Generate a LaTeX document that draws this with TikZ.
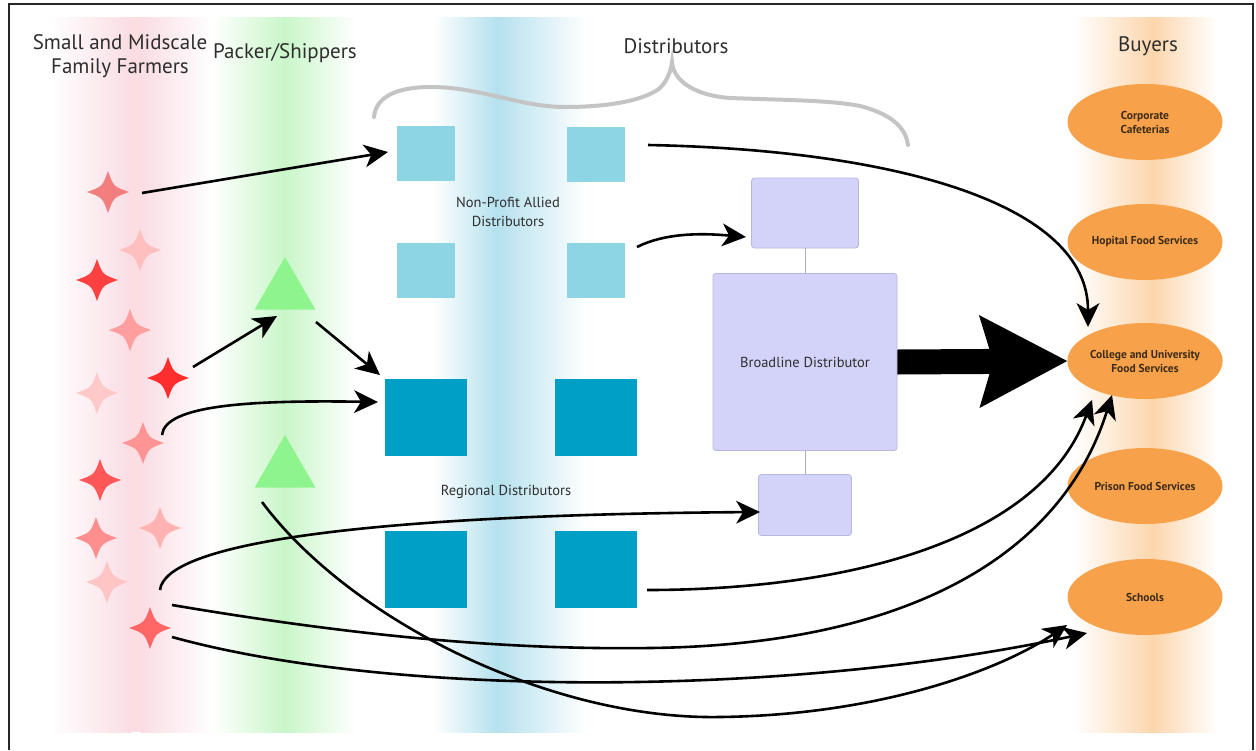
\documentclass[tikz,border=0pt]{standalone}
\usepackage{fontspec}
\setmainfont{PT Sans}
\usetikzlibrary{shapes.geometric,arrows.meta}
\definecolor{npblue}{HTML}{8DD4E5}
\definecolor{rgblue}{HTML}{00A0C6}
\definecolor{lav}{HTML}{D3D3FA}
\definecolor{lavline}{HTML}{B6B6E2}
\definecolor{trigreen}{HTML}{8EF58E}
\definecolor{buyorange}{HTML}{F7A24A}
\definecolor{bandpink}{HTML}{FADCE4}
\definecolor{bandgreen}{HTML}{C9F6C9}
\definecolor{bandblue}{HTML}{B5E1EE}
\definecolor{bandorange}{HTML}{FCD6AD}
\definecolor{headtext}{HTML}{2E2E2E}
\definecolor{buytext}{HTML}{3D2B17}
\definecolor{bracegray}{HTML}{C4C4C4}
\definecolor{starsalmon}{HTML}{F27E7E}
\newcommand\farmstar[3]{%
  \node[circle,inner sep=0pt,minimum size=42pt] (#1) at (#2) {};
  \fill[#3,shift={(#2)}] (0,-21) .. controls (5.5,-5.5) .. (21,0) .. controls (5.5,5.5) .. (0,21)
     .. controls (-5.5,5.5) .. (-21,0) .. controls (-5.5,-5.5) .. (0,-21) -- cycle;}
\begin{document}
\begin{tikzpicture}[x=1pt,y=-1pt,
  flow/.style={line width=2.6pt,-{Stealth[length=24pt 0,width=23pt 0,inset=7pt 0,line width=0pt 0 0]}},
  npbox/.style={fill=npblue,minimum width=58pt,minimum height=55pt,inner sep=0pt},
  rgbox/.style={fill=rgblue,minimum width=82pt,minimum height=77pt,inner sep=0pt},
  bdbox/.style={fill=lav,draw=lavline,line width=0.8pt,rounded corners=3pt,inner sep=0pt,
     font=\fontsize{14.5}{17}\selectfont,text=headtext},
  buyer/.style={ellipse,fill=buyorange,minimum width=155pt,minimum height=76pt,inner sep=0pt,
     font=\fontsize{11.5}{14}\selectfont\bfseries,text=buytext,align=center},
  tri/.style={regular polygon,regular polygon sides=3,fill=trigreen,minimum size=70pt,inner sep=0pt},
  head/.style={font=\fontsize{21}{24}\selectfont,text=headtext,align=center},
  lbl/.style={font=\fontsize{14.5}{19}\selectfont,text=headtext,align=center}]
\useasboundingbox (0,0) rectangle (1256,750);
\fill[white] (0,0) rectangle (1256,750);
% background bands
\shade[left color=white,right color=bandpink] (50,17) rectangle (132,732);
\fill[bandpink!90!red!60!white] (130,17) rectangle (142,732);
\shade[left color=bandpink,right color=white] (140,17) rectangle (212,732);
\shade[left color=white,right color=bandgreen] (212,17) rectangle (285,732);
\shade[left color=bandgreen,right color=white] (285,17) rectangle (356,732);
\shade[left color=white,right color=bandblue] (433,17) rectangle (497,732);
\shade[left color=bandblue,right color=white] (497,17) rectangle (587,732);
\shade[left color=white,right color=bandorange] (1073,17) rectangle (1153,732);
\shade[left color=bandorange,right color=white] (1153,17) rectangle (1217,732);
% frame
\draw[line width=1.3pt,black!85] (9,750) -- (9,4) -- (1253,4) -- (1253,750);
% brace
\draw[bracegray,line width=4pt,line cap=round]
  (374,117) .. controls (376,95) and (400,87) .. (431,87)
  .. controls (480,87) and (520,107) .. (565,107)
  .. controls (610,107) and (645,100) .. (660,88)
  .. controls (668,80) and (671,70) .. (672,62)
  .. controls (673,78) and (690,95) .. (730,98)
  .. controls (780,100) and (830,100) .. (860,106)
  .. controls (895,115) and (906,130) .. (908,145);
% headers
\node[head] (hfarm) at (120,56) {Small and Midscale\\Family Farmers};
\node[head] (hpack) at (285,53) {Packer/Shippers};
\node[head] (hdist) at (676,46) {Distributors};
\node[head] (hbuy) at (1148,46) {Buyers};
% stars
\farmstar{sA}{108,192}{starsalmon}
\farmstar{sB}{140,250}{red!25!white}
\farmstar{sC}{97,280}{red!75!white}
\farmstar{sD}{130,330}{red!38!white}
\farmstar{sE}{168,378}{red!82!white}
\farmstar{sF}{97,393}{red!21!white}
\farmstar{sG}{143,443}{red!42!white}
\farmstar{sH}{100,480}{red!66!white}
\farmstar{sI}{96,538}{red!44!white}
\farmstar{sJ}{160,528}{red!30!white}
\farmstar{sK}{107,582}{red!23!white}
\farmstar{sL}{150,628}{red!60!white}
% triangles
\node[tri] (t1) at (285,292) {};
\node[tri] (t2) at (285,470) {};
% distributor boxes
\node[npbox] (np1) at (426,153) {};
\node[npbox] (np2) at (596,154) {};
\node[npbox] (np3) at (426,270) {};
\node[npbox] (np4) at (596,270) {};
\node[lbl] (nplbl) at (508,212) {Non-Profit Allied\\Distributors};
\node[rgbox] (r1) at (426,417) {};
\node[rgbox] (r2) at (596,417) {};
\node[rgbox] (r3) at (426,569) {};
\node[rgbox] (r4) at (596,569) {};
\node[lbl] (rglbl) at (506,492) {Regional Distributors};
\node[bdbox,minimum width=107pt,minimum height=70pt] (bdtop) at (805,213) {};
\node[bdbox,minimum width=184pt,minimum height=177pt] (bdbig) at (805,362) {Broadline Distributor};
\node[bdbox,minimum width=93pt,minimum height=61pt] (bdbot) at (805,505) {};
\draw[lavline!80!gray,line width=0.8pt] (bdtop.south) -- (bdbig.north);
\draw[lavline!80!gray,line width=0.8pt] (bdbig.south) -- (bdbot.north);
% buyers
\node[buyer] (corp) at (1145,122) {Corporate\\Cafeterias};
\node[buyer] (hosp) at (1145,242) {Hopital Food Services};
\node[buyer] (college) at (1145,361) {College and University\\Food Services};
\node[buyer] (prison) at (1145,486) {Prison Food Services};
\node[buyer] (schools) at (1145,597) {Schools};
% big arrow
\draw[line width=25pt,-{Stealth[length=88pt 0,width=93pt 0,inset=14pt 0,line width=0pt 0 0]}]
  (bdbig.east) -- (college.west);
% flows
\draw[flow] ([shift={(34,1)}]sA.center) -- ([shift={(-38,-1)}]np1.center);
\draw[flow] ([shift={(25,-11)}]sE.center) -- ([shift={(-8,24)}]t1.center);
\draw[flow] ([shift={(31,30)}]t1.center) -- ([shift={(-46,-42)}]r1.center);
\draw[flow] ([shift={(19,-8)}]sG.center) .. controls (165,405) and (250,400) .. ([shift={(-48,-15)}]r1.center);
\draw[flow] ([shift={(52,-9)}]np2.center) .. controls (900,150) and (1088,205) .. ([shift={(-57,-34)}]college.center);
\draw[flow] ([shift={(41,-23)}]np4.center) .. controls (665,233) and (700,233) .. ([shift={(-59,24)}]bdtop.center);
\draw[flow] ([shift={(10,-38)}]sL.center) .. controls (165,545) and (350,515) .. ([shift={(-45,7)}]bdbot.center);
\draw[flow] ([shift={(22,-23)}]sL.center) .. controls (350,635) and (500,650) .. (650,648)
  .. controls (900,645) and (1060,560) .. ([shift={(-33,34)}]college.center);
\draw[flow] ([shift={(22,9)}]sL.center) .. controls (400,700) and (800,695) .. ([shift={(-58,36)}]schools.center);
\draw[flow] ([shift={(51,21)}]r4.center) .. controls (850,590) and (1040,540) .. ([shift={(-53,39)}]college.center);
\draw[flow] ([shift={(-23,32)}]t2.center) .. controls (350,620) and (550,720) .. (720,717)
  .. controls (880,715) and (1000,670) .. ([shift={(-78,28)}]schools.center);
\end{tikzpicture}
\end{document}
